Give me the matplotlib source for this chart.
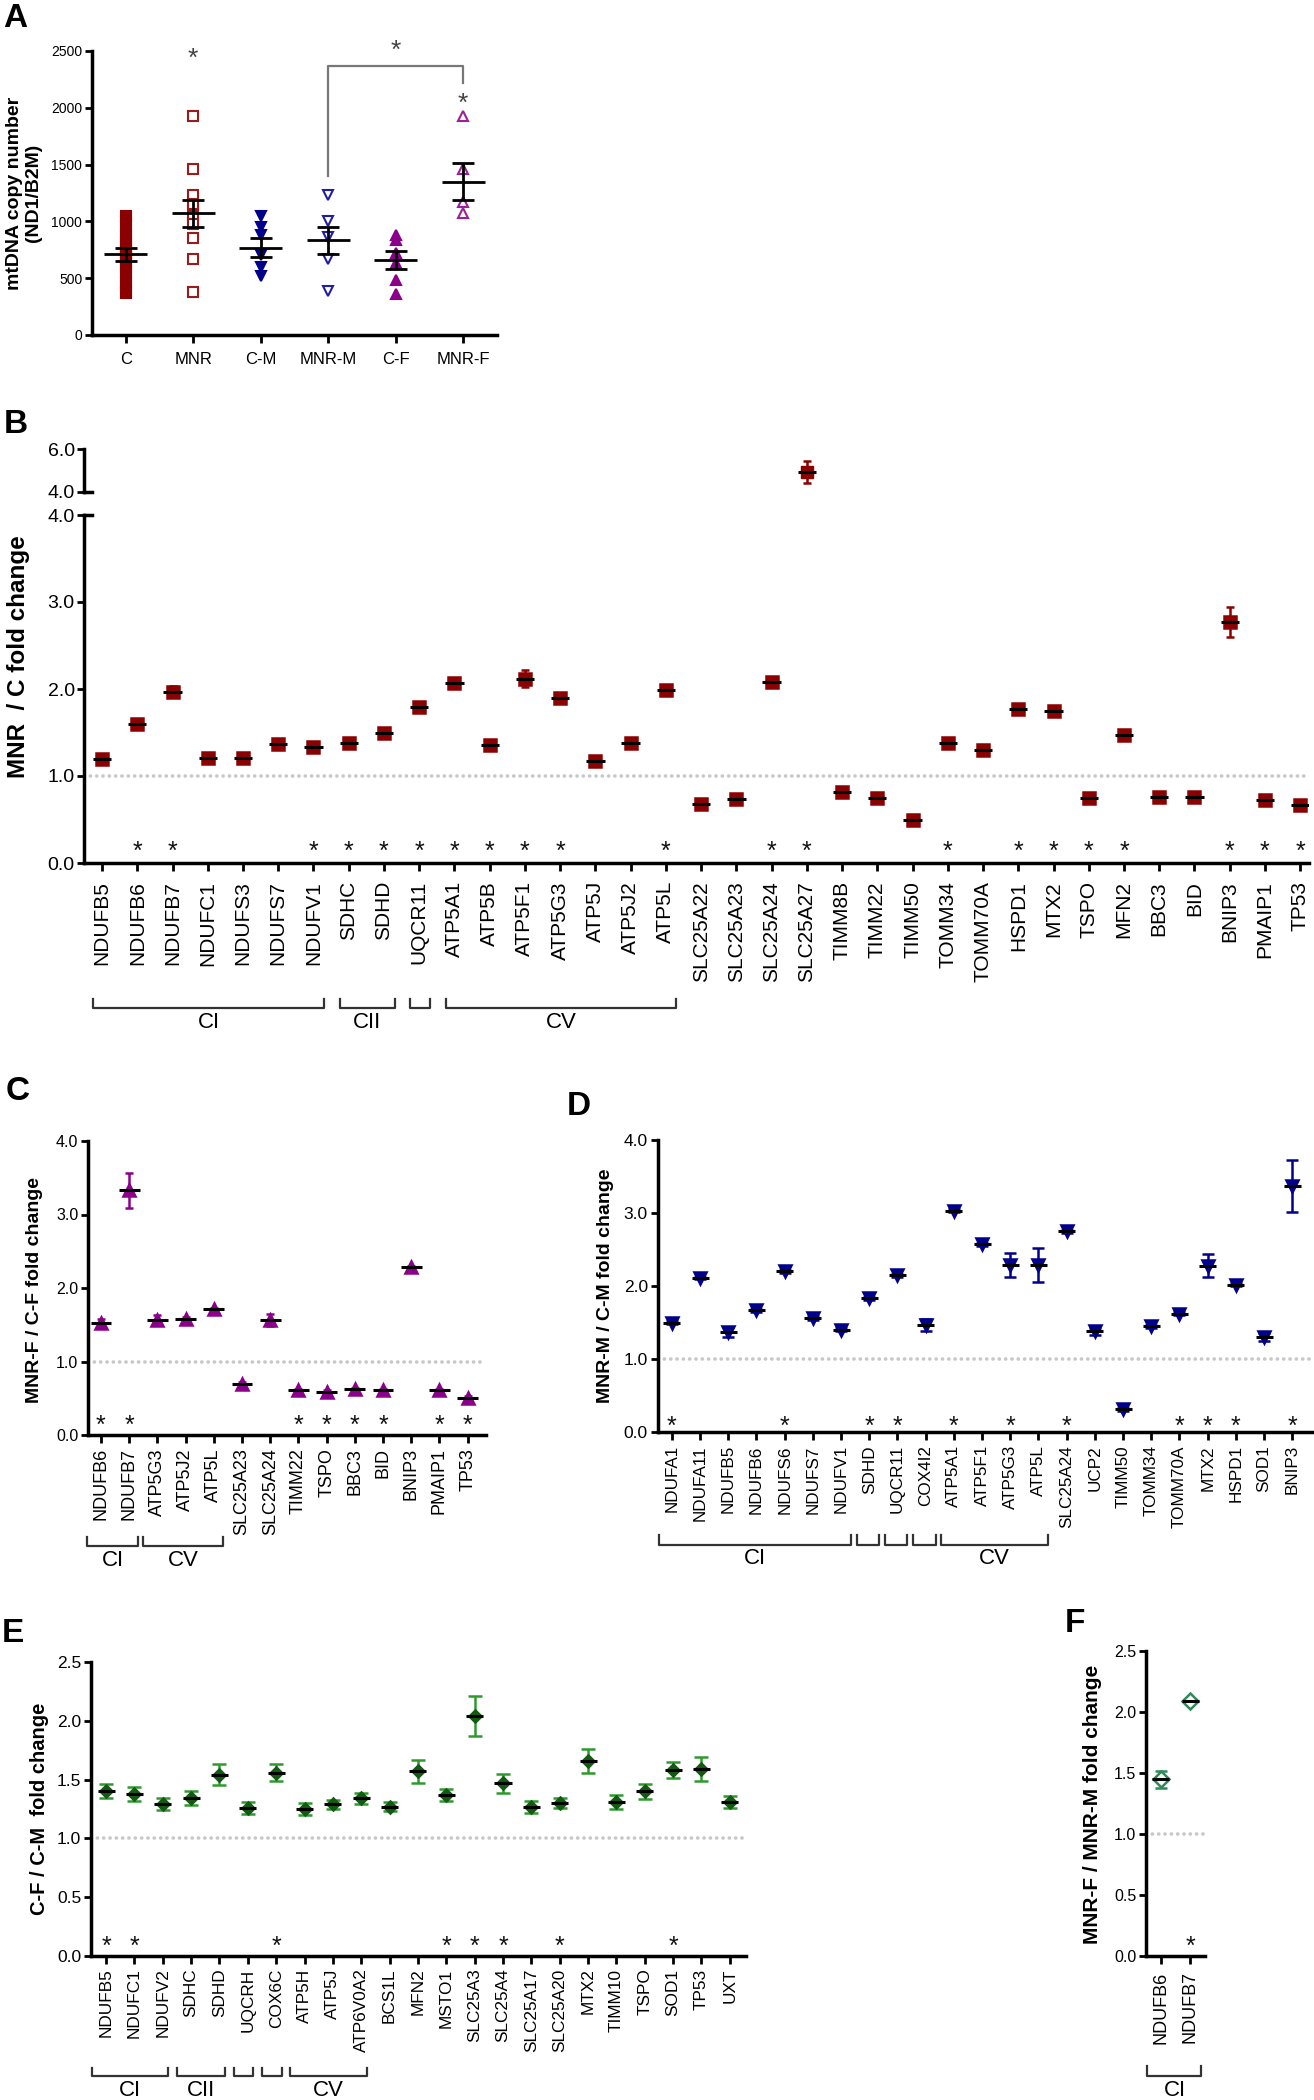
import numpy as np
import matplotlib
matplotlib.use("Agg")
import matplotlib.pyplot as plt
import matplotlib.transforms as mtransforms
from matplotlib import font_manager

# ---------------- data ----------------
# A: mtDNA copy number (ND1/B2M)
groups_a = ["C", "MNR", "C-M", "MNR-M", "C-F", "MNR-F"]
pts_c = [370, 390, 430, 470, 520, 560, 600, 630, 660, 690, 710, 740, 770,
         800, 830, 870, 910, 960, 1010, 1050]
pts_mnr = [1930, 1460, 1230, 1150, 1050, 980, 850, 665, 380]
pts_cm = [1050, 950, 880, 700, 600, 520]
pts_mnrm = [1230, 1000, 865, 665, 390]
pts_cf = [880, 835, 720, 630, 485, 365]
pts_mnrf = [1930, 1460, 1170, 1075]
mean_a = [710, 1070, 770, 835, 660, 1350]
sem_a = [60, 120, 87, 120, 80, 160]

# B: MNR / C fold change
genes_b = ["NDUFB5", "NDUFB6", "NDUFB7", "NDUFC1", "NDUFS3", "NDUFS7", "NDUFV1",
           "SDHC", "SDHD", "UQCR11", "ATP5A1", "ATP5B", "ATP5F1", "ATP5G3",
           "ATP5J", "ATP5J2", "ATP5L", "SLC25A22", "SLC25A23", "SLC25A24",
           "SLC25A27", "TIMM8B", "TIMM22", "TIMM50", "TOMM34", "TOMM70A",
           "HSPD1", "MTX2", "TSPO", "MFN2", "BBC3", "BID", "BNIP3", "PMAIP1", "TP53"]
fc_b = [1.20, 1.60, 1.97, 1.21, 1.21, 1.37, 1.33, 1.38, 1.49, 1.79, 2.07, 1.36,
        2.12, 1.90, 1.17, 1.38, 1.99, 0.68, 0.74, 2.08, 4.92, 0.82, 0.75, 0.49,
        1.38, 1.30, 1.77, 1.75, 0.75, 1.47, 0.76, 0.76, 2.77, 0.72, 0.67]
sem_b = [0.03, 0.03, 0.06, 0.03, 0.03, 0.04, 0.04, 0.04, 0.04, 0.04, 0.05, 0.04,
         0.10, 0.04, 0.04, 0.04, 0.05, 0.03, 0.03, 0.05, 0.50, 0.03, 0.03, 0.03,
         0.03, 0.03, 0.04, 0.03, 0.03, 0.03, 0.03, 0.03, 0.17, 0.03, 0.03]
sig_b = ["NDUFB6", "NDUFB7", "NDUFV1", "SDHC", "SDHD", "UQCR11", "ATP5A1", "ATP5B",
         "ATP5F1", "ATP5G3", "ATP5L", "SLC25A24", "SLC25A27", "TOMM34", "HSPD1",
         "MTX2", "TSPO", "MFN2", "BNIP3", "PMAIP1", "TP53"]
cplx_b = [("CI", "NDUFB5", "NDUFV1"), ("CII", "SDHC", "SDHD"),
          ("", "UQCR11", "UQCR11"), ("CV", "ATP5A1", "ATP5L")]

# C: MNR-F / C-F fold change
genes_c = ["NDUFB6", "NDUFB7", "ATP5G3", "ATP5J2", "ATP5L", "SLC25A23", "SLC25A24",
           "TIMM22", "TSPO", "BBC3", "BID", "BNIP3", "PMAIP1", "TP53"]
fc_c = [1.53, 3.33, 1.56, 1.58, 1.71, 0.70, 1.56, 0.61, 0.59, 0.62, 0.61, 2.28, 0.61, 0.51]
sem_c = [0.05, 0.24, 0.07, 0.02, 0.02, 0.02, 0.08, 0.02, 0.02, 0.02, 0.02, 0.02, 0.02, 0.02]
sig_c = ["NDUFB6", "NDUFB7", "TIMM22", "TSPO", "BBC3", "BID", "PMAIP1", "TP53"]
cplx_c = [("CI", "NDUFB6", "NDUFB7"), ("CV", "ATP5G3", "ATP5L")]

# D: MNR-M / C-M fold change
genes_d = ["NDUFA1", "NDUFA11", "NDUFB5", "NDUFB6", "NDUFS6", "NDUFS7", "NDUFV1",
           "SDHD", "UQCR11", "COX4I2", "ATP5A1", "ATP5F1", "ATP5G3", "ATP5L",
           "SLC25A24", "UCP2", "TIMM50", "TOMM34", "TOMM70A", "MTX2", "HSPD1",
           "SOD1", "BNIP3"]
fc_d = [1.50, 2.11, 1.37, 1.67, 2.20, 1.56, 1.40, 1.83, 2.15, 1.47, 3.03, 2.57,
        2.29, 2.29, 2.75, 1.38, 0.31, 1.45, 1.62, 2.28, 2.02, 1.30, 3.37]
sem_d = [0.02, 0.02, 0.07, 0.02, 0.02, 0.03, 0.02, 0.02, 0.02, 0.08, 0.02, 0.02,
         0.16, 0.23, 0.02, 0.05, 0.02, 0.02, 0.02, 0.16, 0.02, 0.05, 0.36]
sig_d = ["NDUFA1", "NDUFS6", "SDHD", "UQCR11", "ATP5A1", "ATP5G3", "SLC25A24",
         "TOMM70A", "MTX2", "HSPD1", "BNIP3"]
cplx_d = [("CI", "NDUFA1", "NDUFV1"), ("", "SDHD", "SDHD"), ("", "UQCR11", "UQCR11"),
          ("", "COX4I2", "COX4I2"), ("CV", "ATP5A1", "ATP5L")]

# E: C-F / C-M fold change
genes_e = ["NDUFB5", "NDUFC1", "NDUFV2", "SDHC", "SDHD", "UQCRH", "COX6C", "ATP5H",
           "ATP5J", "ATP6V0A2", "BCS1L", "MFN2", "MSTO1", "SLC25A3", "SLC25A4",
           "SLC25A17", "SLC25A20", "MTX2", "TIMM10", "TSPO", "SOD1", "TP53", "UXT"]
fc_e = [1.40, 1.38, 1.29, 1.34, 1.54, 1.26, 1.56, 1.25, 1.29, 1.34, 1.27, 1.57,
        1.37, 2.04, 1.47, 1.27, 1.30, 1.66, 1.31, 1.40, 1.58, 1.59, 1.31]
sem_e = [0.06, 0.06, 0.05, 0.06, 0.09, 0.05, 0.07, 0.05, 0.04, 0.05, 0.04, 0.10,
         0.05, 0.17, 0.08, 0.05, 0.04, 0.10, 0.06, 0.065, 0.07, 0.10, 0.05]
sig_e = ["NDUFB5", "NDUFC1", "COX6C", "MSTO1", "SLC25A3", "SLC25A4", "SLC25A20", "SOD1"]
cplx_e = [("CI", "NDUFB5", "NDUFV2"), ("CII", "SDHC", "SDHD"), ("", "UQCRH", "UQCRH"),
          ("", "COX6C", "COX6C"), ("CV", "ATP5H", "ATP6V0A2")]

# F: MNR-F / MNR-M fold change
genes_f = ["NDUFB6", "NDUFB7"]
fc_f = [1.45, 2.09]
sem_f = [0.07, 0.01]
sig_f = ["NDUFB7"]
cplx_f = [("CI", "NDUFB6", "NDUFB7")]

# ---------------- styling ----------------
W, H = 1314, 2100
names = {f.name for f in font_manager.fontManager.ttflist}
REG = "Liberation Sans"
NARROW = "Liberation Sans Narrow" if "Liberation Sans Narrow" in names else REG
plt.rcParams["font.family"] = [REG, "DejaVu Sans"]

fig = plt.figure(figsize=(W / 100, H / 100), dpi=100)


def rect(l, t, r, b):
    return [l / W, 1 - b / H, (r - l) / W, (b - t) / H]


def clean(ax, lw=2.5):
    for s in ["top", "right"]:
        ax.spines[s].set_visible(False)
    for s in ["left", "bottom"]:
        ax.spines[s].set_linewidth(lw)


def star(ax, x, y, size=18, color="#111111"):
    # asterisk glyph sits ~0.58 em above the baseline -> shift so it centres on y
    ax.annotate("*", (x, y), xytext=(0, -0.58 * size), textcoords="offset points",
                ha="center", va="baseline", fontsize=size, color=color,
                annotation_clip=False)


def fold_panel(ax, genes, fc, sem, sig, color, ecolor, marker, ms, mfc, hw, capsize,
               star_y, xlab_size, xpad, yfont, ysize, cplx, lpad, rpad, br_px, gsize):
    x = np.arange(len(genes))
    ax.axhline(1.0, color="#c8c8c8", lw=2.6, ls=(0, (0.05, 1.7)),
               dash_capstyle="round", zorder=1)
    ax.errorbar(x, fc, yerr=sem, fmt="none", ecolor=ecolor, elinewidth=1.8,
                capsize=capsize, capthick=1.8, zorder=2)
    ax.plot(x, fc, ls="none", marker=marker, ms=ms, color=color, mfc=mfc,
            mec=color, mew=1.8, zorder=3)
    ax.hlines(fc, x - hw, x + hw, color="black", lw=2.2, zorder=4)
    for g in sig:
        star(ax, genes.index(g), star_y)
    ax.set_xticks(x)
    ax.set_xticklabels(genes, rotation=90, fontsize=xlab_size, va="top", ha="center")
    ax.tick_params(axis="x", length=6, width=2, pad=xpad)
    ax.tick_params(axis="y", length=5, width=2, pad=2)
    for t in ax.get_yticklabels():
        t.set_fontfamily(yfont)
        t.set_fontsize(ysize)
    clean(ax)
    # complex brackets under the gene names
    trans = mtransforms.blended_transform_factory(ax.transData, fig.transFigure)
    yt, yb, ytxt = [1 - v / H for v in br_px]
    for name, g0, g1 in cplx:
        x0 = genes.index(g0) - lpad
        x1 = genes.index(g1) + rpad
        ax.plot([x0, x0, x1, x1], [yt, yb, yb, yt], transform=trans, color="#333333",
                lw=1.6, clip_on=False)
        if name:
            ax.text((x0 + x1) / 2, ytxt, name, transform=trans, ha="center",
                    va="center", fontsize=gsize, fontfamily=NARROW)


def ylab(x_px, y_px, text, size):
    fig.text(x_px / W, 1 - y_px / H, text, rotation=90, ha="center", va="center",
             fontsize=size, fontweight="bold", linespacing=1.15)


def letter(x_px, y_px, s):
    fig.text(x_px / W, 1 - y_px / H, s, ha="left", va="baseline", fontsize=24,
             fontweight="bold")


fmt1 = lambda v: f"{v:.1f}"

# ---------------- A ----------------
axA = fig.add_axes(rect(92, 51, 497, 335))
pts_a = [pts_c, pts_mnr, pts_cm, pts_mnrm, pts_cf, pts_mnrf]
mk_a = [("s", "#8B0000", True), ("s", "#9B1B1B", False), ("v", "#00008B", True),
        ("v", "#1F1FA0", False), ("^", "#8B008B", True), ("^", "#9B209B", False)]
for i, (pts, (m, c, filled)) in enumerate(zip(pts_a, mk_a)):
    axA.plot([i] * len(pts), pts, ls="none", marker=m, ms=6.5, color=c,
             mfc=c if filled else "white", mec=c, mew=1.5, zorder=2)
xa = np.arange(len(groups_a))
axA.hlines(mean_a, xa - 0.32, xa + 0.32, color="black", lw=2, zorder=4)
axA.errorbar(xa, mean_a, yerr=sem_a, fmt="none", ecolor="black", elinewidth=2,
             capsize=8, capthick=2, zorder=4)
axA.plot([3, 3, 5, 5], [1400, 2370, 2370, 2220], color="#777777", lw=1.6)
for xs, ys in [(1, 2505), (4, 2570), (5, 2110)]:
    star(axA, xs, ys, size=19, color="#444444")
axA.set_xlim(-0.5, 5.5)
axA.set_ylim(0, 2500)
axA.set_yticks([0, 500, 1000, 1500, 2000, 2500])
axA.set_xticks(xa)
axA.set_xticklabels(groups_a, fontsize=12)
axA.tick_params(axis="y", labelsize=10, length=5, width=2, pad=2)
axA.tick_params(axis="x", length=6, width=2, pad=6)
clean(axA)
ylab(24, 193, "mtDNA copy number\n(ND1/B2M)", 14)
letter(3, 27, "A")

# ---------------- B ----------------
bl, br = 84.4, 1309
axBt = fig.add_axes(rect(bl, 449, br, 492))
axB = fig.add_axes(rect(bl, 515, br, 863))
for ax, lo, hi in [(axBt, 4, 6), (axB, 0, 4)]:
    ax.set_ylim(lo, hi)
    ax.set_xlim(-0.5, 34.25)
axB.set_yticks([0, 1, 2, 3, 4])
axB.set_yticklabels([fmt1(v) for v in [0, 1, 2, 3, 4]])
fold_panel(axB, genes_b, fc_b, sem_b, sig_b, "#8B0000", "#8B0000", "s", 9, "#8B0000",
           0.26, 3.2, 0.21, 15, 7, NARROW, 14, cplx_b, 0.25, 0.3, (999, 1008, 1022), 16)
xb = np.arange(len(genes_b))
axBt.errorbar(xb, fc_b, yerr=sem_b, fmt="none", ecolor="#8B0000", elinewidth=1.8,
              capsize=3.2, capthick=1.8, zorder=2)
axBt.plot(xb, fc_b, ls="none", marker="s", ms=9, color="#8B0000", zorder=3)
axBt.hlines(fc_b, xb - 0.26, xb + 0.26, color="black", lw=2.2, zorder=4)
axBt.set_yticks([4, 6])
axBt.set_yticklabels(["4.0", "6.0"], fontfamily=NARROW, fontsize=14)
axBt.set_xticks([])
for s in ["top", "right", "bottom"]:
    axBt.spines[s].set_visible(False)
axBt.spines["left"].set_linewidth(2.5)
axBt.tick_params(axis="y", length=5, width=2, pad=2)
for ax, yy in [(axBt, 0), (axB, 1)]:
    ax.plot([0, 0.006], [yy, yy], transform=ax.transAxes, color="black", lw=2.5,
            clip_on=False)
ylab(19, 657, "MNR  / C fold change", 17.5)
letter(4, 433, "B")

# ---------------- C ----------------
axC = fig.add_axes(rect(88, 1141, 486, 1435))
axC.set_xlim(-0.46, 13.65)
axC.set_ylim(0, 4)
axC.set_yticks([0, 1, 2, 3, 4])
axC.set_yticklabels([fmt1(v) for v in [0, 1, 2, 3, 4]])
fold_panel(axC, genes_c, fc_c, sem_c, sig_c, "#8B008B", "#8B008B", "^", 9, "#8B008B",
           0.37, 3.2, 0.22, 13, 3.5, REG, 11.5, cplx_c, 0.5, 0.33, (1537, 1546, 1560), 16)
ylab(35, 1290, "MNR-F / C-F fold change", 14)
letter(6, 1100, "C")

# ---------------- D ----------------
axD = fig.add_axes(rect(657.5, 1140, 1312, 1432))
axD.set_xlim(-0.51, 22.7)
axD.set_ylim(0, 4)
axD.set_yticks([0, 1, 2, 3, 4])
axD.set_yticklabels([fmt1(v) for v in [0, 1, 2, 3, 4]])
fold_panel(axD, genes_d, fc_d, sem_d, sig_d, "#00008B", "#00008B", "v", 9, "#00008B",
           0.3, 4, 0.17, 12.3, 3.5, NARROW, 12.5, cplx_d, 0.45, 0.35, (1535, 1545, 1558), 16)
ylab(606, 1286, "MNR-M / C-M fold change", 14)
letter(567, 1115, "D")

# ---------------- E ----------------
axE = fig.add_axes(rect(91, 1662, 746, 1956))
axE.set_xlim(-0.53, 22.57)
axE.set_ylim(0, 2.5)
axE.set_yticks([0, 0.5, 1, 1.5, 2, 2.5])
axE.set_yticklabels([fmt1(v) for v in [0, 0.5, 1, 1.5, 2, 2.5]])
fold_panel(axE, genes_e, fc_e, sem_e, sig_e, "#145A14", "#2E9A2E", "D", 6, "#145A14",
           0.3, 5, 0.14, 12.4, 3, NARROW, 12.5, cplx_e, 0.5, 0.2, (2068, 2076, 2090), 16)
ylab(40, 1809, "C-F / C-M  fold change", 14.5)
letter(2, 1642, "E")

# ---------------- F ----------------
axF = fig.add_axes(rect(1146, 1651, 1205, 1956))
axF.set_xlim(-0.5, 1.5)
axF.set_ylim(0, 2.5)
axF.set_yticks([0, 0.5, 1, 1.5, 2, 2.5])
axF.set_yticklabels([fmt1(v) for v in [0, 0.5, 1, 1.5, 2, 2.5]])
fold_panel(axF, genes_f, fc_f, sem_f, sig_f, "#2E8B57", "#2E8B57", "D", 8, "white",
           0.29, 4, 0.14, 13, 5, REG, 11.5, cplx_f, 0.45, 0.38, (2066, 2076, 2090), 16)
ylab(1092, 1804, "MNR-F / MNR-M fold change", 15)
letter(1065, 1632, "F")

fig.savefig("out.png", dpi=100)
